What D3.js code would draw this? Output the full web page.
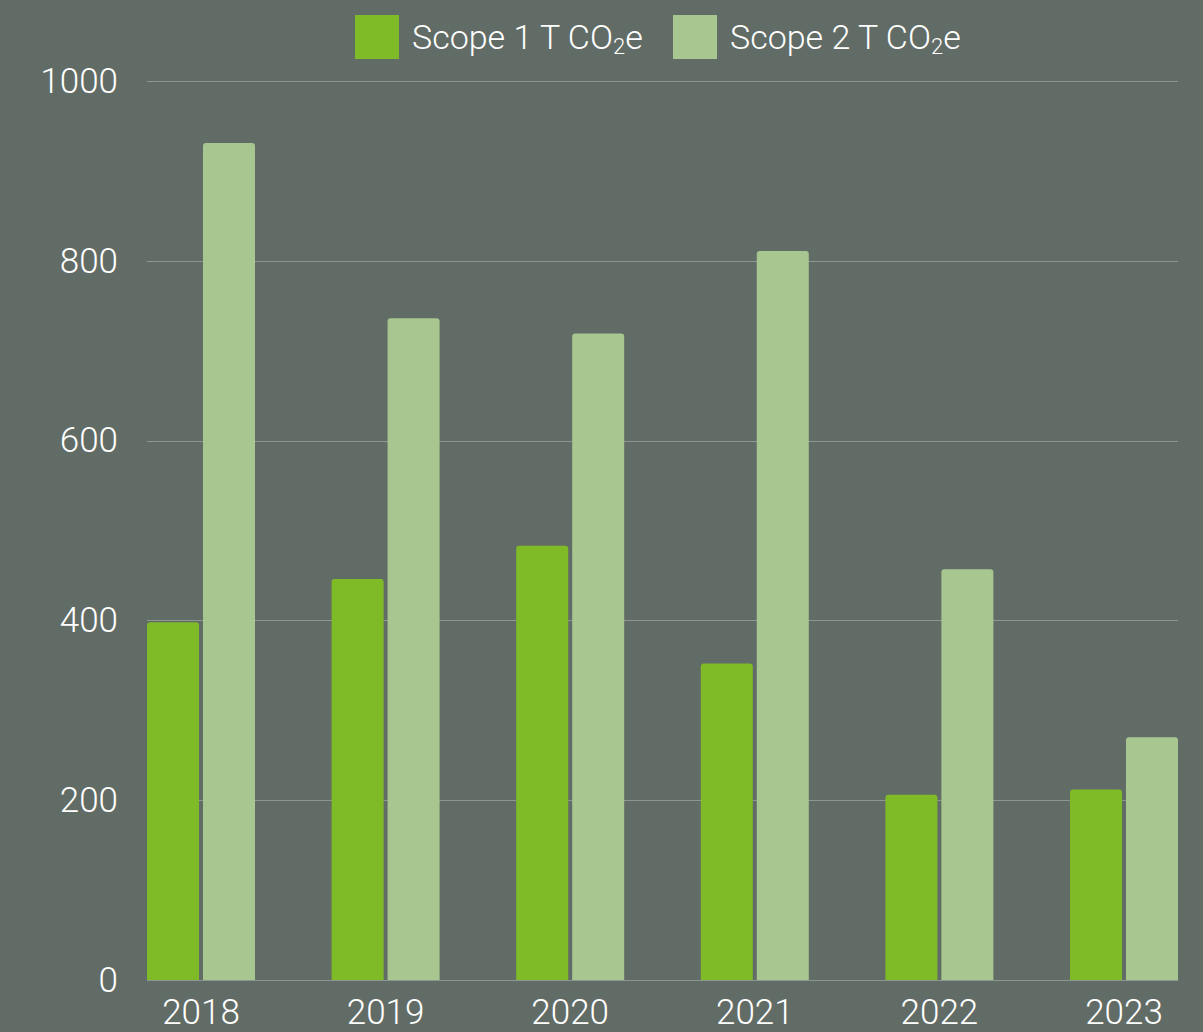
<!DOCTYPE html>
<html>
<head>
<meta charset="utf-8">
<script src="https://cdn.jsdelivr.net/npm/d3@7"></script>
<style>
  html, body { margin: 0; padding: 0; background: #626c66; }
  svg text { font-family: Roboto, "Noto Sans", sans-serif; font-weight: 300; fill: #ffffff; }
</style>
</head>
<body>
<div id="main"></div>
<script>
// dados
const years = ["2018", "2019", "2020", "2021", "2022", "2023"];
const scope1 = [398, 446, 483, 352, 206, 212];
const scope2 = [931, 736, 719, 811, 457, 270];
const seriesNames = ["Scope 1", "Scope 2"];
const yTicks = [0, 200, 400, 600, 800, 1000];
const colors = ["#7fba27", "#a8c690"];

const W = 1203, H = 1032;
const margin = { top: 81, right: 25, bottom: 52, left: 147 };
const w = W - margin.left - margin.right;
const h = H - margin.top - margin.bottom;

const svg = d3.select("#main").append("svg")
  .attr("width", W)
  .attr("height", H);

const g = svg.append("g")
  .attr("transform", `translate(${margin.left},${margin.top})`);

const x0 = d3.scaleBand().domain(years).range([0, w]).paddingInner(0.415).paddingOuter(0);
const x1 = d3.scaleBand().domain(seriesNames).range([0, x0.bandwidth()]).paddingInner(0.071);
const y = d3.scaleLinear().domain([0, 1000]).range([h, 0]);

// linhas de grade
g.selectAll("line.grid")
  .data(yTicks)
  .join("line")
  .attr("class", "grid")
  .attr("x1", 0)
  .attr("x2", w)
  .attr("y1", d => Math.round(y(d)) + 0.5)
  .attr("y2", d => Math.round(y(d)) + 0.5)
  .attr("stroke", "#8d9690")
  .attr("stroke-width", 1);

// eixo Y (so os textos)
const yAxis = g.append("g")
  .call(d3.axisLeft(y).tickValues(yTicks).tickSize(0).tickPadding(29).tickFormat(d3.format("d")));
yAxis.select(".domain").remove();
yAxis.selectAll("text")
  .attr("fill", "#fff")
  .style("font-size", "35px")
  .style("font-family", "Roboto, sans-serif")
  .style("font-weight", 300);

// eixo X
const xAxis = g.append("g")
  .attr("transform", `translate(0,${h})`)
  .call(d3.axisBottom(x0).tickSize(0).tickPadding(19));
xAxis.select(".domain").remove();
xAxis.selectAll("text")
  .attr("fill", "#fff")
  .style("font-size", "35px")
  .style("font-family", "Roboto, sans-serif")
  .style("font-weight", 300);

// barras com cantos de cima arredondados
function topRounded(x, y0, bw, bh, r) {
  return `M${x},${y0 + bh}V${y0 + r}Q${x},${y0} ${x + r},${y0}H${x + bw - r}Q${x + bw},${y0} ${x + bw},${y0 + r}V${y0 + bh}Z`;
}

const rows = years.map((yr, i) => ({ year: yr, values: [scope1[i], scope2[i]] }));

g.selectAll("g.year")
  .data(rows)
  .join("g")
  .attr("class", "year")
  .attr("transform", d => `translate(${x0(d.year)},0)`)
  .selectAll("path")
  .data(d => d.values.map((v, k) => ({ key: seriesNames[k], value: v, k })))
  .join("path")
  .attr("d", d => topRounded(x1(d.key), y(d.value), x1.bandwidth(), h - y(d.value), 3))
  .attr("fill", d => colors[d.k]);

// legenda
const legend = svg.append("g");
const legendX = [355, 673];
seriesNames.forEach((s, i) => {
  const lg = legend.append("g").attr("transform", `translate(${legendX[i]},15)`);
  lg.append("rect").attr("width", 44).attr("height", 44).attr("fill", colors[i]);
  const t = lg.append("text")
    .attr("x", 57)
    .attr("y", 34)
    .style("font-size", "34px");
  t.append("tspan").text(s + " T CO");
  t.append("tspan").text("2").attr("dy", 5).style("font-size", "22px");
  t.append("tspan").text("e").attr("dy", -5);
});
</script>
</body>
</html>
